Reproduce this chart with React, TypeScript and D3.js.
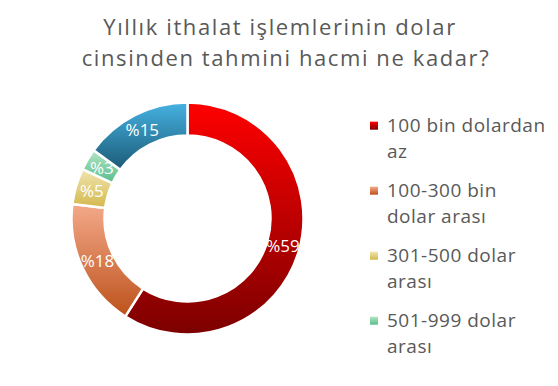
import { useEffect, useRef } from "react";
import * as d3 from "d3";

const titleLines = ["Yıllık ithalat işlemlerinin dolar", "cinsinden tahmini hacmi ne kadar?"];
const categories = [
  "100 bin dolardan az",
  "100-300 bin dolar arası",
  "301-500 dolar arası",
  "501-999 dolar arası",
  "1 milyon dolar ve üzeri",
];
// legend rows as wrapped in the picture
const legendLines = [
  ["100 bin dolardan", "az"],
  ["100-300 bin", "dolar arası"],
  ["301-500 dolar", "arası"],
  ["501-999 dolar", "arası"],
  ["1 milyon dolar", "ve üzeri"],
];
const values = [59, 18, 5, 3, 15];
const topColors = ["#ff0000", "#f4a98a", "#f1e5b2", "#b6e5c6", "#46b2e2"];
const bottomColors = ["#7c0000", "#bd521b", "#d3b84c", "#58bd8c", "#1b5a76"];

const W = 558;
const H = 386;

export default function App() {
  const ref = useRef<SVGSVGElement>(null);

  useEffect(() => {
    const svg = d3.select(ref.current);
    svg.selectAll("*").remove();

    const font = "'Open Sans', sans-serif";
    const cx = 187.5, cy = 218.5;
    const outer = 116, inner = 83;

    const defs = svg.append("defs");
    values.forEach((_, i) => {
      const g = defs.append("linearGradient")
        .attr("id", "grad" + i)
        .attr("x1", 0).attr("y1", 0).attr("x2", 0).attr("y2", 1);
      g.append("stop").attr("offset", "0%").attr("stop-color", topColors[i]);
      g.append("stop").attr("offset", "100%").attr("stop-color", bottomColors[i]);
    });

    // title
    svg.append("g")
      .attr("font-family", font)
      .attr("font-size", 22)
      .attr("letter-spacing", 1.6)
      .attr("fill", "#595959")
      .attr("text-anchor", "middle")
      .selectAll("text")
      .data(titleLines)
      .join("text")
      .attr("x", (_, i) => (i ? 286 : 280))
      .attr("y", (_, i) => 35 + i * 30.5)
      .text(d => d);

    const arcs = d3.pie<number>().sort(null).value(d => d)(values);
    const arc = d3.arc<d3.PieArcDatum<number>>().innerRadius(inner).outerRadius(outer);
    const mid = (inner + outer) / 2;
    const labelArc = d3.arc<d3.PieArcDatum<number>>().innerRadius(mid).outerRadius(mid);

    const pie = svg.append("g").attr("transform", `translate(${cx},${cy})`);
    pie.selectAll("path")
      .data(arcs)
      .join("path")
      .attr("d", arc)
      .attr("fill", (_, i) => `url(#grad${i})`)
      .attr("stroke", "#fff")
      .attr("stroke-width", 2.5)
      .attr("stroke-linejoin", "round");

    pie.selectAll("text")
      .data(arcs)
      .join("text")
      .attr("transform", d => `translate(${labelArc.centroid(d)})`)
      .attr("text-anchor", "middle")
      .attr("dy", "0.36em")
      .attr("font-family", font)
      .attr("font-size", 17)
      .attr("fill", "#fff")
      .text(d => "%" + d.data);

    // legend (the last entry falls below the chart area)
    const legend = svg.append("g")
      .attr("font-family", font)
      .attr("font-size", 19)
      .attr("letter-spacing", 0.5)
      .attr("fill", "#595959");
    const rows = legend.selectAll("g")
      .data(categories.filter((_, i) => 131.7 + i * 65 + 26 < H))
      .join("g")
      .attr("transform", (_, i) => `translate(0,${131.7 + i * 65})`);
    rows.append("rect")
      .attr("x", 370).attr("y", -10).attr("width", 8).attr("height", 8)
      .attr("fill", (_, i) => `url(#grad${i})`);
    rows.append("text")
      .attr("x", 387)
      .selectAll("tspan")
      .data((_, i) => legendLines[i])
      .join("tspan")
      .attr("x", 387)
      .attr("y", (_, j) => j * 26)
      .text(d => d);
  }, []);

  return (
    <div style={{ position: "absolute", left: 0, top: 0 }}>
      <svg ref={ref} width={W} height={H} style={{ display: "block", background: "#fff" }} />
    </div>
  );
}
